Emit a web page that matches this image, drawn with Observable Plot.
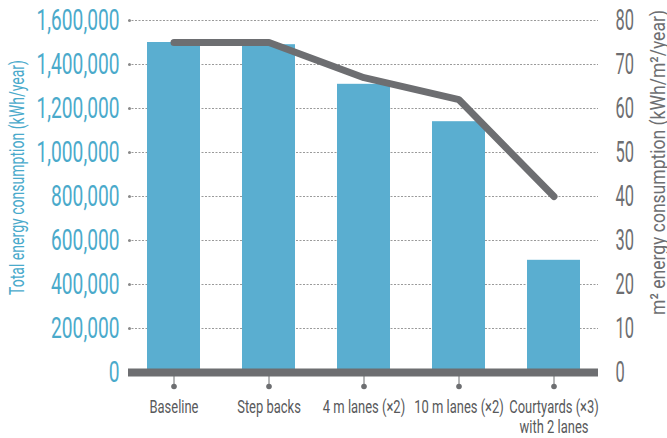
<!DOCTYPE html>
<html>
<head>
<meta charset="utf-8">
<script src="https://cdn.jsdelivr.net/npm/d3@7"></script>
<script src="https://cdn.jsdelivr.net/npm/@observablehq/plot@0.6"></script>
<style>
  html, body { margin: 0; padding: 0; background: #fff; }
  #chart svg { display: block; }
</style>
</head>
<body>
<div id="chart"></div>
<script>
const categories = ["Baseline", "Step backs", "4 m lanes (×2)", "10 m lanes (×2)", "Courtyards (×3)\nwith 2 lanes"];
const totalEnergy = [1500000, 1490000, 1310000, 1140000, 510000];
const perM2Energy = [75, 75, 67, 62, 40];
const leftTicks = [0, 200000, 400000, 600000, 800000, 1000000, 1200000, 1400000, 1600000];
const rightTicks = [0, 10, 20, 30, 40, 50, 60, 70, 80];
const leftTitle = "Total energy consumption (kWh/year)";
const rightTitle = "m² energy consumption (kWh/m²/year)";

const ratio = 1600000 / 80;
const data = categories.map((c, i) => ({cat: c, total: totalEnergy[i], m2: perM2Energy[i]}));

const blue = "#5aaed0";
const blueText = "#4aaacb";
const gray = "#6d6e71";
const font = "Roboto, 'DejaVu Sans', sans-serif";

const chart = Plot.plot({
  width: 667,
  height: 438,
  marginLeft: 128,
  marginRight: 69,
  marginTop: 20,
  marginBottom: 66,
  style: {fontFamily: font, background: "#fff"},
  x: {domain: categories, paddingInner: 0.445, paddingOuter: 0.18},
  y: {domain: [0, 1600000]},
  marks: [
    Plot.ruleY(leftTicks.filter(d => d > 0), {y: d => d, stroke: "#9a9a9a", strokeWidth: 1, strokeDasharray: "2,1.5"}),
    Plot.dot(leftTicks.filter(d => d > 0), {y: d => d, frameAnchor: "left", dx: 1, r: 1.5, fill: "#8a8a8a", stroke: null}),
    Plot.barY(data, {x: "cat", y: "total", fill: blue}),
    Plot.ruleY([0], {stroke: gray, strokeWidth: 8}),
    Plot.axisX({tickSize: 14, tickPadding: 12, stroke: gray, fill: "#58595b", fontSize: 19, lineHeight: 1.05, label: null, tickFormat: d => d}),
    Plot.dot(categories, {x: d => d, frameAnchor: "bottom", dy: 14, r: 2.8, fill: gray, stroke: null}),
    Plot.line(data, {x: "cat", y: d => d.m2 * ratio, stroke: gray, strokeWidth: 7, strokeLinecap: "round", strokeLinejoin: "miter"}),
    Plot.axisY({anchor: "left", ticks: leftTicks, tickSize: 0, tickPadding: 9, fill: blueText, fontSize: 29, label: null, tickFormat: d => d3.format(",")(d)}),
    Plot.axisY({anchor: "right", ticks: rightTicks.map(d => d * ratio), tickSize: 0, tickPadding: 17, fill: gray, fontSize: 29, label: null, tickFormat: d => String(d / ratio)}),
    Plot.text([leftTitle], {frameAnchor: "left", rotate: -90, textAnchor: "start", dx: -110.5, dy: 98.5, fill: blueText, fontSize: 20, text: d => d}),
    Plot.text([rightTitle], {frameAnchor: "right", rotate: -90, textAnchor: "start", dx: 60, dy: 118.5, fill: gray, fontSize: 21, text: d => d})
  ]
});
document.getElementById("chart").appendChild(chart);

// Condense text horizontally (the reference uses a condensed typeface).
function squeezeEl(el, f) {
  const w = el.getComputedTextLength();
  el.setAttribute("textLength", (w * f).toFixed(2));
  el.setAttribute("lengthAdjust", "spacingAndGlyphs");
}
function squeeze(t, f) {
  const spans = t.querySelectorAll("tspan");
  if (spans.length) spans.forEach(s => squeezeEl(s, f));
  else squeezeEl(t, f);
}
function factorFor(texts, content, target) {
  const t = texts.find(e => e.textContent === content);
  return t ? target / t.getComputedTextLength() : 0.65;
}
const svg = chart;
const allTexts = Array.from(svg.querySelectorAll("text"));
const yGroups = Array.from(svg.querySelectorAll('g[aria-label="y-axis tick label"]'));
const xGroup = svg.querySelector('g[aria-label="x-axis tick label"]');
if (yGroups[0]) {
  const ts = Array.from(yGroups[0].querySelectorAll("text"));
  const f = factorFor(ts, "1,600,000", 83);
  ts.forEach(t => squeeze(t, f));
}
if (yGroups[1]) {
  const ts = Array.from(yGroups[1].querySelectorAll("text"));
  const f = factorFor(ts, "80", 18.5);
  ts.forEach(t => squeeze(t, f));
}
if (xGroup) {
  const ts = Array.from(xGroup.querySelectorAll("text"));
  const f = factorFor(ts, "Baseline", 49);
  ts.forEach(t => squeeze(t, f));
}
allTexts.forEach(t => {
  if (t.textContent === leftTitle) squeeze(t, 235 / t.getComputedTextLength());
  if (t.textContent === rightTitle) squeeze(t, 305 / t.getComputedTextLength());
});
</script>
</body>
</html>
